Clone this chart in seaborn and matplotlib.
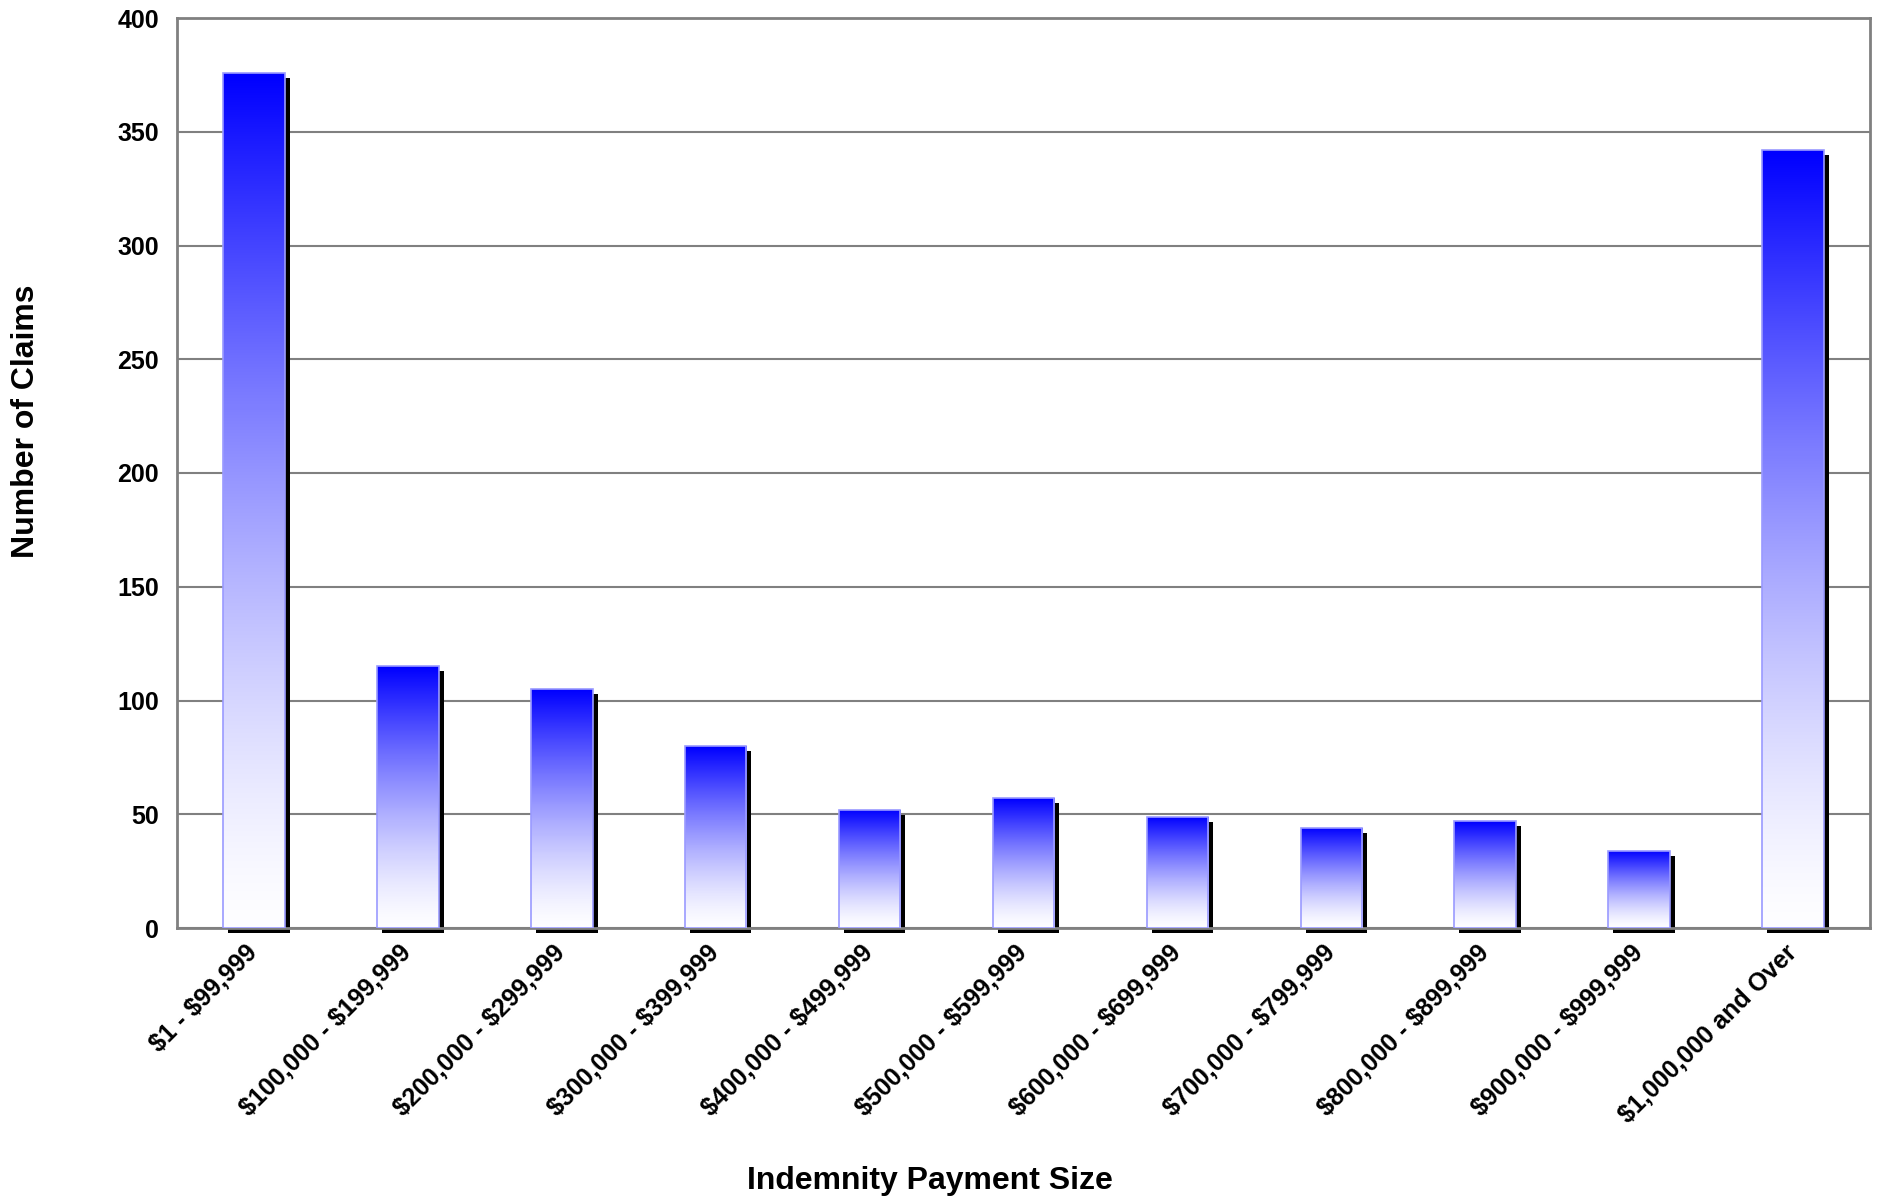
import matplotlib
matplotlib.use('Agg')
import matplotlib.pyplot as plt
import matplotlib.transforms as mtransforms
from matplotlib.colors import LinearSegmentedColormap
from matplotlib.patches import Rectangle
import seaborn as sns
import numpy as np
import pandas as pd

# chart data
categories = ['$1 - $99,999', '$100,000 - $199,999', '$200,000 - $299,999',
              '$300,000 - $399,999', '$400,000 - $499,999', '$500,000 - $599,999',
              '$600,000 - $699,999', '$700,000 - $799,999', '$800,000 - $899,999',
              '$900,000 - $999,999', '$1,000,000 and Over']
claims = [376, 115, 105, 80, 52, 57, 49, 44, 47, 34, 342]
yticks = [0, 50, 100, 150, 200, 250, 300, 350, 400]

sns.set_style('white')
plt.rcParams['font.family'] = ['Liberation Sans', 'DejaVu Sans']
plt.rcParams['font.weight'] = 'bold'
plt.rcParams['text.parse_math'] = False
plt.rcParams['text.color'] = 'black'
plt.rcParams['xtick.color'] = 'black'
plt.rcParams['ytick.color'] = 'black'

W, H = 1877, 1201
fig = plt.figure(figsize=(W / 100, H / 100), dpi=100)
ax = fig.add_axes([177 / W, 1 - 928 / H, (1870 - 177) / W, (928 - 18) / H])

df = pd.DataFrame({'size': categories, 'claims': claims})
sns.barplot(data=df, x='size', y='claims', ax=ax, width=0.4, color='white',
            saturation=1, order=categories)

grad_cmap = LinearSegmentedColormap.from_list('bluefade', ['#fdfdff', '#0000ff'])
grad = (np.linspace(0, 1, 256) ** 1.4).reshape(-1, 1)
shadow_off = mtransforms.ScaledTranslation(5 / 100, -5 / 100, fig.dpi_scale_trans)

for p in list(ax.patches):
    x0, w, h = p.get_x(), p.get_width(), p.get_height()
    shadow = Rectangle((x0, 0), w, h, facecolor='black', edgecolor='none',
                       transform=ax.transData + shadow_off, zorder=2, clip_on=False)
    ax.add_patch(shadow)
    im = ax.imshow(grad, extent=[x0, x0 + w, 0, h], origin='lower', cmap=grad_cmap,
                   aspect='auto', zorder=3, interpolation='bilinear', vmin=0, vmax=1)
    im.set_clip_path(p)
    p.set_facecolor('none')
    p.set_edgecolor('#9a9aff')
    p.set_linewidth(1.2)
    p.set_zorder(4)

ax.set_xlim(-0.5, len(categories) - 0.5)
ax.set_ylim(0, 400)
ax.set_yticks(yticks)
ax.set_yticklabels([str(t) for t in yticks], fontsize=18, fontweight='bold')
ax.set_xticks(range(len(categories)))
ax.set_xticklabels(categories, rotation=45, ha='right', va='center',
                   rotation_mode='anchor', fontsize=18, fontweight='bold')
ax.set_xticks(np.arange(-0.5, len(categories), 1), minor=True)
ax.tick_params(axis='x', which='major', length=0, pad=15)
ax.tick_params(axis='x', which='minor', length=5, width=1.5, color='#808080', direction='out')
ax.tick_params(axis='y', length=5, width=1.5, color='#808080', direction='out', pad=8)

ax.yaxis.grid(True, color='#808080', linewidth=1.5)
ax.set_axisbelow(True)
for s in ax.spines.values():
    s.set_visible(True)
    s.set_color('#808080')
    s.set_linewidth(2)

ax.set_xlabel('')
ax.set_ylabel('')
fig.text(26 / W, 1 - 421 / H, 'Number of Claims', rotation=90, ha='center', va='center',
         fontsize=23, fontweight='bold')
fig.text(930 / W, 1 - 1181 / H, 'Indemnity Payment Size', ha='center', va='center',
         fontsize=23, fontweight='bold')

fig.savefig('out.png', dpi=100)
